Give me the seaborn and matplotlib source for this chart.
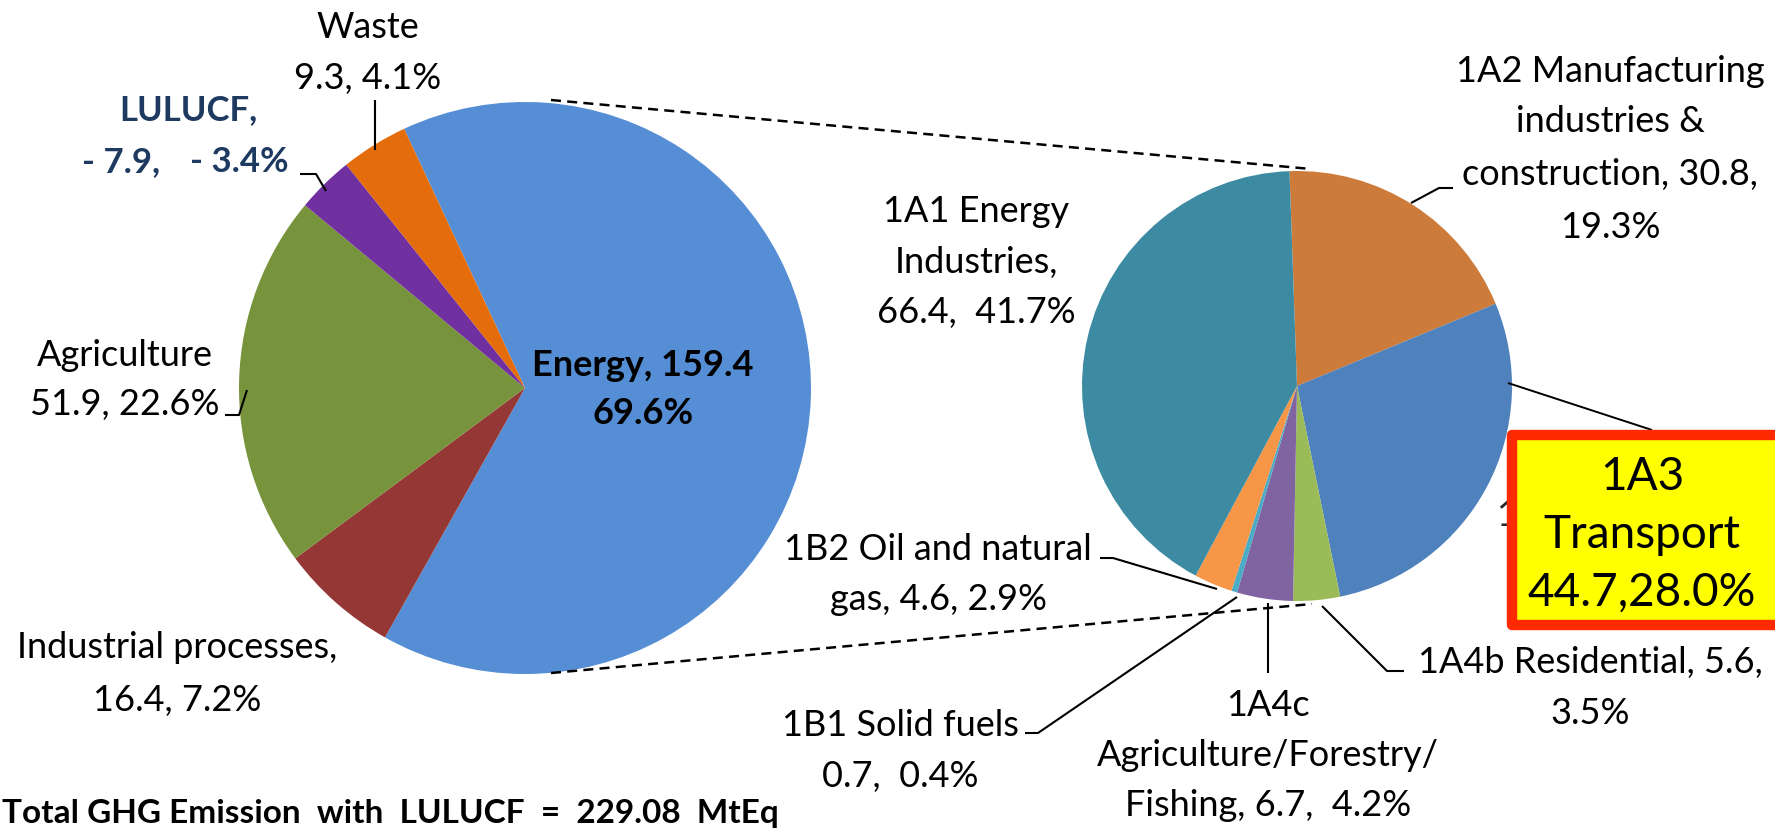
"""
plot.py - GHG emission pie with the Energy sector broken out into a second pie.
"""

import matplotlib
matplotlib.use("Agg")

import matplotlib.pyplot as plt
import matplotlib.patches as mpatches
import seaborn as sns

W, H = 1775, 832

# ---- data ---------------------------------------------------------------
sectors = ["Energy", "Industrial processes", "Agriculture", "LULUCF", "Waste"]
sector_values = [159.4, 16.4, 51.9, 7.9, 9.3]          # LULUCF drawn by size (-7.9)
sector_colors = ["#558ED5", "#953735", "#77933C", "#7030A0", "#E46C0A"]

energy_subs = ["1A2", "1A3", "1A4b", "1A4c", "1B1", "1B2", "1A1"]
energy_values = [30.8, 44.7, 5.6, 6.7, 0.7, 4.6, 66.4]
energy_colors = ["#CC7B3A", "#4F81BD", "#9BBB59", "#8064A2", "#4BACC6",
                 "#F79646", "#3D8BA3"]

total_text = "Total GHG Emission  with  LULUCF  =  229.08  MtEq"

sns.set_theme(style="white")
plt.rcParams["font.family"] = ["Lato", "DejaVu Sans"]

fig = plt.figure(figsize=(W / 100, H / 100), dpi=100)
ax = fig.add_axes([0, 0, 1, 1])


def Y(py):
    # picture rows run downwards, axes y runs upwards
    return H - py


# ---- the two pies -------------------------------------------------------
ax.pie(sector_values, colors=sector_colors, startangle=115, counterclock=False,
       radius=286, center=(525, Y(388)), wedgeprops=dict(linewidth=0))
ax.pie(energy_values, colors=energy_colors, startangle=92, counterclock=False,
       radius=215, center=(1297, Y(386)), wedgeprops=dict(linewidth=0))

ax.set_xlim(0, W)
ax.set_ylim(0, H)
ax.set_aspect("equal")
ax.axis("off")


def label(x, ys, lines, size=26, weight="normal", color="black", z=6):
    for y, txt in zip(ys, lines):
        ax.text(x, Y(y), txt, ha="center", va="center", fontsize=size,
                fontweight=weight, color=color, zorder=z)


def leader(pts, lw=1.5, ls="-"):
    ax.plot([p[0] for p in pts], [Y(p[1]) for p in pts], color="black",
            lw=lw, ls=ls, zorder=4, solid_capstyle="butt")


# connector lines between the pies
leader([(551, 100), (1311, 169)], lw=1.8, ls=(0, (4, 2.5)))
leader([(551, 673), (1312, 604)], lw=1.8, ls=(0, (4, 2.5)))

# ---- left pie labels ----------------------------------------------------
label(368, [27, 78], ["Waste", "9.3, 4.1%"])
leader([(375, 100), (375, 150)])

lulucf_color = "#1F3A60"
label(188, [110], ["LULUCF,"], size=25, weight="bold", color=lulucf_color)
ax.text(82, Y(162), "- 7.9,", ha="left", va="center", fontsize=25,
        fontweight="bold", color=lulucf_color)
ax.text(190, Y(162), "- 3.4%", ha="left", va="center", fontsize=25,
        fontweight="bold", color=lulucf_color)
leader([(300, 174), (316, 174), (326, 191)])

label(125, [355, 405], ["Agriculture", "51.9, 22.6%"])
leader([(225, 415), (239, 415), (247, 390)])

label(177, [647, 700], ["Industrial processes,", "16.4, 7.2%"])

label(643, [365, 413], ["Energy, 159.4", "69.6%"], weight="bold")

# ---- right pie labels ---------------------------------------------------
label(976, [212, 263, 312], ["1A1 Energy", "Industries,", "66.4,  41.7%"])

label(1610, [72, 122, 175, 227],
      ["1A2 Manufacturing", "industries &", "construction, 30.8,", "19.3%"])
leader([(1411, 203), (1439, 188), (1453, 188)])

label(938, [550, 600], ["1B2 Oil and natural", "gas, 4.6, 2.9%"])
leader([(1100, 558), (1113, 558), (1217, 589)])

label(900, [725, 777], ["1B1 Solid fuels", "0.7,  0.4%"])
leader([(1025, 733), (1038, 733), (1237, 597)])

label(1268, [705, 756, 806], ["1A4c", "Agriculture/Forestry/", "Fishing, 6.7,  4.2%"])
leader([(1268, 603), (1268, 673)])

label(1590, [663, 713], ["1A4b Residential, 5.6,", "3.5%"])
leader([(1322, 606), (1387, 671), (1404, 671)])

# 1A3 transport: original label hidden behind a highlighted box
ax.text(1497, Y(515), "1A3 Transport, 44.7, 28.0%", ha="left", va="center",
        fontsize=26, zorder=3)
leader([(1508, 383), (1652, 430)], lw=1.4)
box = mpatches.Rectangle((1512, Y(625)), 300, 190, facecolor="#FFFF00",
                         edgecolor="#FF2A00", linewidth=7.5, zorder=5,
                         joinstyle="round")
ax.add_patch(box)
label(1642, [477, 535, 593], ["1A3", "Transport", "44.7,28.0%"], size=33)

# ---- footer -------------------------------------------------------------
ax.text(2, Y(813), total_text, ha="left", va="center", fontsize=24,
        fontweight="bold", color="black")

fig.savefig("out.png", dpi=100)
